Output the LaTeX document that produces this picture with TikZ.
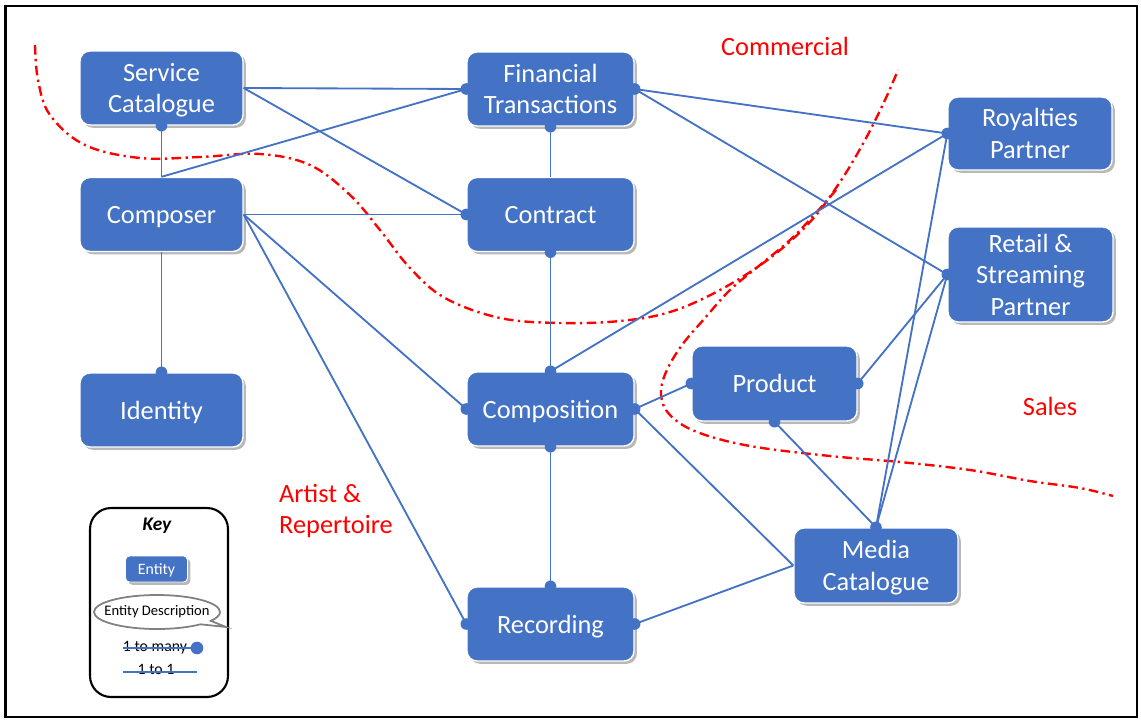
\documentclass[tikz,border=0pt]{standalone}
\usepackage{fontspec}
\setmainfont{Carlito}
\usetikzlibrary{shadows,shapes.callouts,shapes.geometric}
\definecolor{entblue}{HTML}{4472C4}
\definecolor{bndred}{HTML}{FF0000}
\begin{document}
\begin{tikzpicture}[x=0.02cm,y=-0.02cm,
  entity/.style={rectangle, rounded corners=0.2cm, fill=entblue, draw=white, line width=0.8pt,
    text=white, font=\fontsize{15}{18}\selectfont, align=center, text depth=0pt,
    minimum width=3.26cm, minimum height=1.48cm, inner sep=0pt,
    drop shadow={shadow xshift=1.6pt, shadow yshift=-1.6pt, fill=black, opacity=0.28}},
  link/.style={draw=entblue, line width=1.05pt},
  manydot/.style={fill=entblue},
  boundary/.style={draw=bndred, line width=1.35pt, dash pattern=on 5.5pt off 2.5pt on 1.3pt off 2.5pt},
  area/.style={text=bndred, font=\fontsize{15}{18}\selectfont, align=left},
  keytext/.style={font=\fontsize{9}{11}\selectfont, inner sep=0pt}]

\useasboundingbox (0,0) rectangle (1141,720);
\draw[line width=1.5pt] (5.5,6) rectangle (1137,717);

% nodes
\node[entity] (sc) at (161.5,88) {Service\\Catalogue};
\node[entity] (cmp) at (161.5,214.5) {Composer};
\node[entity] (idn) at (161.5,410) {Identity};
\node[entity, minimum width=3.34cm] (ft) at (550.5,89) {Financial\\Transactions};
\node[entity, minimum width=3.34cm] (ct) at (550.5,214.5) {Contract};
\node[entity, minimum width=3.34cm] (cpn) at (550.5,409) {Composition};
\node[entity, minimum width=3.34cm] (rec) at (550.5,624) {Recording};
\node[entity, minimum width=3.3cm, minimum height=1.5cm] (prd) at (774.5,383.5) {Product};
\node[entity, minimum width=3.28cm, minimum height=1.5cm] (mc) at (876,565.5) {Media\\Catalogue};
\node[entity, minimum width=3.28cm, minimum height=1.46cm] (roy) at (1030,133.5) {Royalties\\Partner};
\node[entity, minimum width=3.3cm, minimum height=1.9cm] (ret) at (1030.5,274.5) {Retail \&\\Streaming\\Partner};

% red boundaries
\draw[boundary] plot[smooth, tension=0.6] coordinates {(35,45) (38,80) (50,115) (85,145) (140,158) (200,157) (260,154) (310,165) (350,195) (380,230) (410,268) (445,298) (500,318) (560,323) (620,321) (670,312) (720,290) (770,258) (810,222) (840,182) (865,140) (885,100) (898,70)};
\draw[boundary] plot[smooth, tension=0.6] coordinates {(836,190) (815,214) (790,240) (760,265) (730,290) (705,318) (682,345) (666,372) (661,395) (670,415) (697,432) (750,446) (830,456) (900,462) (970,470) (1030,481) (1080,488) (1113,496)};

% connectors
\draw[link] (sc.south) -- (cmp.north);
\draw[link] (sc.east) -- (ft.west);
\draw[link] (sc.east) -- (ct.west);
\draw[link] (cmp.north) -- (ft.west);
\draw[link] (cmp.east) -- (ct.west);
\draw[link] (cmp.east) -- (cpn.west);
\draw[link] (cmp.east) -- (rec.west);
\draw[link] (cmp.south) -- (idn.north);
\draw[link] (ft.south) -- (ct.north);
\draw[link] (ct.south) -- (cpn.north);
\draw[link] (cpn.north) -- (roy.west);
\draw[link] (ft.east) -- (roy.west);
\draw[link] (ft.east) -- (ret.west);
\draw[link] (cpn.south) -- (rec.north);
\draw[link] (cpn.east) -- (prd.west);
\draw[link] (cpn.east) -- (mc.west);
\draw[link] (rec.east) -- (mc.west);
\draw[link] (prd.east) -- (ret.west);
\draw[link] (prd.south) -- (mc.north);
\draw[link] (mc.north) -- (roy.west);
\draw[link] (mc.north) -- (ret.west);

% one-to-many dots
\foreach \a in {sc.south, ft.west, ct.west, cpn.west, rec.west, idn.north, ft.south, ct.south,
  cpn.north, roy.west, ft.east, ret.west, cpn.south, rec.north, cpn.east, prd.west, rec.east,
  prd.east, prd.south, mc.north}
  \fill[manydot] (\a) circle (3.3pt);

% area labels
\node[area] (lcom) at (785,46) {Commercial};
\node[area] (lsal) at (1050,406) {Sales};
\node[area, anchor=west] (lar) at (273,511) {Artist \&\\Repertoire};

% key
\node[draw, line width=1.2pt, rounded corners=0.42cm, minimum width=2.76cm, minimum height=3.78cm, inner sep=0pt] (key) at (159,602.5) {};
\node[font=\fontsize{11}{13}\selectfont\bfseries\itshape, inner sep=0pt] (keyt) at (157,526) {Key};
\node[entity, minimum width=1.24cm, minimum height=0.52cm, rounded corners=0.08cm, line width=0.5pt,
  font=\fontsize{9}{11}\selectfont] (kent) at (156.5,569) {Entity};
\node[ellipse callout, draw=gray, line width=1pt, fill=white, minimum width=2.52cm, minimum height=0.68cm,
  inner sep=0pt, callout absolute pointer={(226,627)}] (kdesc) at (157,612) {};
\node[font=\fontsize{8.3}{10}\selectfont, inner sep=0pt] (kdesct) at (kdesc.center) {Entity Description};
\node[keytext] (kmany) at (155,648) {1 to many};
\coordinate (kma) at (123,648);
\coordinate (kmb) at (197,648);
\draw[link] (kma) -- (kmb);
\fill[manydot] (kmb) circle (3.6pt);
\node[keytext] (kone) at (156,669) {1 to 1};
\coordinate (koa) at (123,672);
\coordinate (kob) at (197,672);
\draw[link] (koa) -- (kob);
\end{tikzpicture}
\end{document}
